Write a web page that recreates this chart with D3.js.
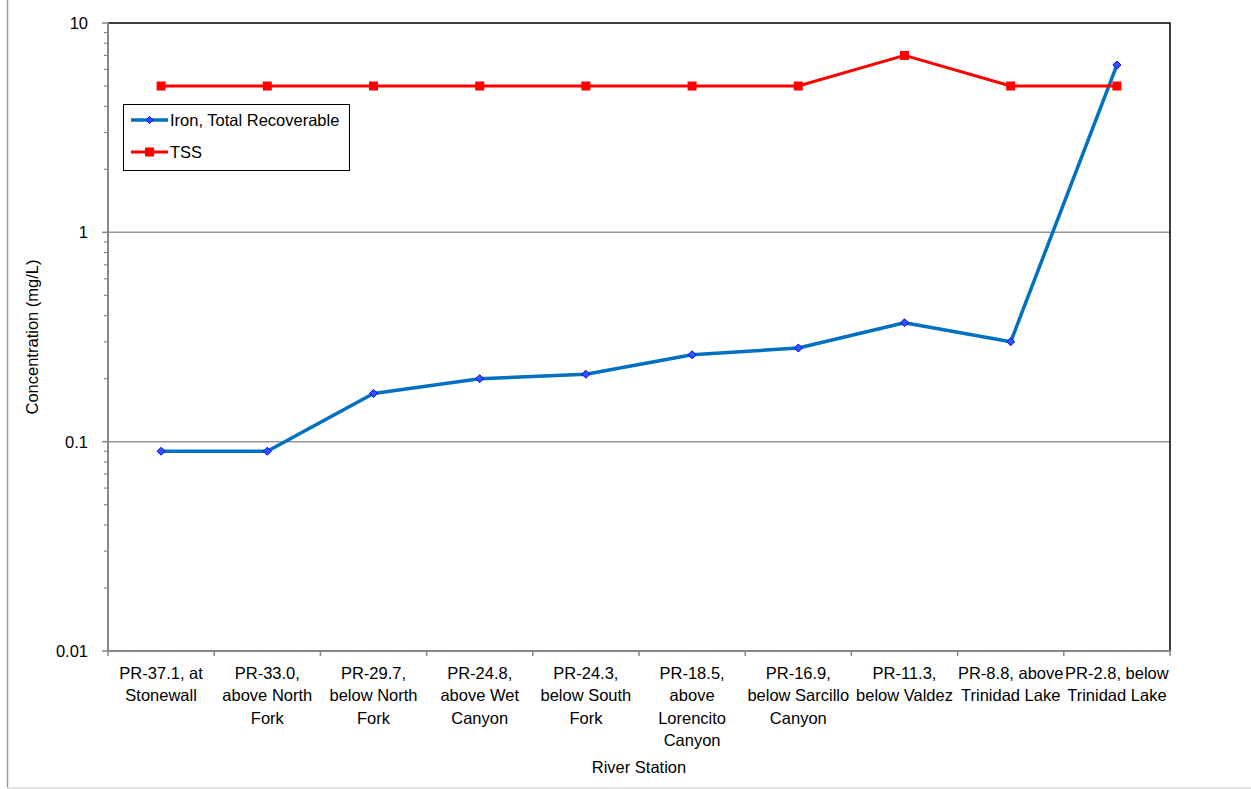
<!DOCTYPE html>
<html><head><meta charset="utf-8">
<script src="https://cdn.jsdelivr.net/npm/d3@7"></script>
<style>
body{margin:0;background:#fff;}
svg text{font-family:"Liberation Sans Narrow","Arial Narrow","Liberation Sans",sans-serif;fill:#000;}
</style></head>
<body><svg id="c" width="1251" height="789"></svg>
<script>
const stations = [
  ["PR-37.1, at","Stonewall"],
  ["PR-33.0,","above North","Fork"],
  ["PR-29.7,","below North","Fork"],
  ["PR-24.8,","above Wet","Canyon"],
  ["PR-24.3,","below South","Fork"],
  ["PR-18.5,","above","Lorencito","Canyon"],
  ["PR-16.9,","below Sarcillo","Canyon"],
  ["PR-11.3,","below Valdez"],
  ["PR-8.8, above","Trinidad Lake"],
  ["PR-2.8, below","Trinidad Lake"]
];
const iron = [0.09,0.09,0.17,0.20,0.21,0.26,0.28,0.37,0.30,6.3];
const tss = [5,5,5,5,5,5,5,7,5,5];
const yTicks = [0.01,0.1,1,10];
const yTickLabels = ["0.01","0.1","1","10"];

const FS = 16.5;
const svg = d3.select("#c");
const L=108,R=1170,T=23,B=651;
const x = d3.scaleBand().domain(d3.range(stations.length)).range([L,R]);
const y = d3.scaleLog().domain([0.01,10]).range([B,T]);

// outer frame
svg.append("line").attr("x1",7.5).attr("x2",7.5).attr("y1",0).attr("y2",788).attr("stroke","#9a9a9a").attr("stroke-width",1.5);
svg.append("line").attr("x1",7).attr("x2",1251).attr("y1",788).attr("y2",788).attr("stroke","#d9d9d9").attr("stroke-width",1.5);

// gridlines
svg.append("g").selectAll("line").data([0.1,1]).join("line")
  .attr("x1",L).attr("x2",R).attr("y1",d=>y(d)).attr("y2",d=>y(d))
  .attr("stroke","#969696").attr("stroke-width",1.5);

// top/right border black
svg.append("path").attr("d",`M${L},${T}H${R}V${B}`).attr("fill","none").attr("stroke","#000").attr("stroke-width",1.5);

// y axis
const minor=[];
for (let e=-2;e<1;e++) for(let m=2;m<=9;m++) minor.push(m*Math.pow(10,e));
svg.append("g").selectAll("line").data(minor).join("line")
  .attr("x1",L-4).attr("x2",L).attr("y1",d=>y(d)).attr("y2",d=>y(d)).attr("stroke","#888").attr("stroke-width",1.2);
svg.append("g").selectAll("line").data(yTicks).join("line")
  .attr("x1",L-6).attr("x2",L).attr("y1",d=>y(d)).attr("y2",d=>y(d)).attr("stroke","#888").attr("stroke-width",1.5);
svg.append("line").attr("x1",L).attr("x2",L).attr("y1",T).attr("y2",B).attr("stroke","#888").attr("stroke-width",2);
svg.append("g").selectAll("text").data(yTicks).join("text")
  .attr("x",L-20).attr("y",(d)=>y(d)).attr("dy","0.36em").attr("text-anchor","end")
  .attr("font-size",FS).text((d,i)=>yTickLabels[i]);

// x axis
svg.append("line").attr("x1",L).attr("x2",R).attr("y1",B).attr("y2",B).attr("stroke","#888").attr("stroke-width",2);
svg.append("g").selectAll("line").data(d3.range(stations.length+1)).join("line")
  .attr("x1",d=>L+d*x.bandwidth()).attr("x2",d=>L+d*x.bandwidth()).attr("y1",B).attr("y2",B+5).attr("stroke","#888").attr("stroke-width",1.5);
const xl = svg.append("g").selectAll("text").data(stations).join("text")
  .attr("x",(d,i)=>x(i)+x.bandwidth()/2).attr("y",679).attr("text-anchor","middle").attr("font-size",FS);
xl.each(function(d){
  const t=d3.select(this);
  d.forEach((s,j)=>t.append("tspan").attr("x",t.attr("x")).attr("dy",j?22.4:0).text(s));
});

// axis titles
svg.append("text").attr("x",(L+R)/2).attr("y",773).attr("text-anchor","middle").attr("font-size",FS).text("River Station");
svg.append("text").attr("transform",`translate(38,${(T+B)/2}) rotate(-90)`).attr("text-anchor","middle").attr("font-size",FS).text("Concentration (mg/L)");

const cx=(d,i)=>x(i)+x.bandwidth()/2;
// series
const line=d3.line().x((d,i)=>cx(d,i)).y(d=>y(d));
svg.append("path").datum(iron).attr("d",line).attr("fill","none").attr("stroke","#0070C0").attr("stroke-width",3.5).attr("stroke-linejoin","round");
svg.append("path").datum(tss).attr("d",line).attr("fill","none").attr("stroke","#FF0000").attr("stroke-width",3).attr("stroke-linejoin","round");
const diamond=(px,py,s)=>`M${px},${py-s}L${px+s},${py}L${px},${py+s}L${px-s},${py}Z`;
svg.append("g").selectAll("path").data(iron).join("path")
  .attr("d",(d,i)=>diamond(cx(d,i),y(d),4)).attr("fill","#3355ff").attr("stroke","#0000ff").attr("stroke-width",1);
svg.append("g").selectAll("rect").data(tss).join("rect")
  .attr("x",(d,i)=>cx(d,i)-4.5).attr("y",d=>y(d)-4.5).attr("width",9).attr("height",9).attr("fill","#FF0000");

// legend
const lg=svg.append("g");
lg.append("rect").attr("x",123.5).attr("y",104.5).attr("width",226).attr("height",66).attr("fill","#fff").attr("stroke","#000").attr("stroke-width",1);
const items=[{n:"Iron, Total Recoverable",c:"#0070C0",m:"d",yy:120},{n:"TSS",c:"#FF0000",m:"s",yy:152}];
items.forEach(it=>{
  lg.append("line").attr("x1",131).attr("x2",168).attr("y1",it.yy).attr("y2",it.yy).attr("stroke",it.c).attr("stroke-width",it.m==="d"?3.5:3);
  if(it.m==="d") lg.append("path").attr("d",diamond(149.5,it.yy,3.5)).attr("fill","#3355ff").attr("stroke","#0000ff");
  else lg.append("rect").attr("x",145).attr("y",it.yy-4.5).attr("width",9).attr("height",9).attr("fill","#FF0000");
  lg.append("text").attr("x",170).attr("y",it.yy).attr("dy","0.36em").attr("font-size",FS).text(it.n);
});
</script></body></html>
